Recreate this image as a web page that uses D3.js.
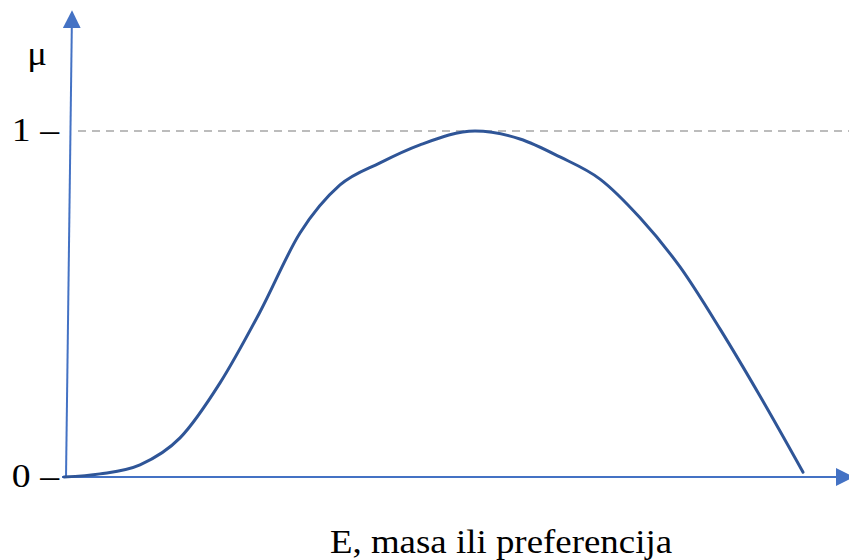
<!DOCTYPE html>
<html>
<head>
<meta charset="utf-8">
<script src="https://cdn.jsdelivr.net/npm/d3@7"></script>
<style>
  html, body { margin: 0; padding: 0; background: #ffffff; }
  svg { display: block; }
  .serif { font-family: "Liberation Serif", "Times New Roman", Times, "DejaVu Serif", serif; }
</style>
</head>
<body>
<svg id="chart" width="849" height="560"></svg>
<script>
// Membership curve μ(E) (E on a 0–100 scale)
const eValues  = [0, 4.65, 9.82, 14.99, 20.16, 25.32, 30.49, 35.66, 40.83, 45.99, 53.1, 58.91, 64.08, 69.25, 74.42, 79.59, 84.75, 89.92, 95.48];
const muValues = [0, 0.009, 0.035, 0.113, 0.272, 0.477, 0.705, 0.844, 0.908, 0.960, 1.0, 0.977, 0.925, 0.861, 0.749, 0.607, 0.428, 0.234, 0.014];
const yTickValues = [0, 1];
const yTickLabels = ["0 \u2013", "1 \u2013"];
const yAxisLabel = "\u03bc";
const xAxisLabel = "E, masa ili preferencija";

const svg = d3.select("#chart");
const x = d3.scaleLinear().domain([0, 100]).range([64, 838]);
const y = d3.scaleLinear().domain([0, 1]).range([477, 131]);

const axisColor = "#4472C4";
const curveColor = "#2F5597";
const stretch = 1.11; // the reference text is slightly wider than plain Times

const defs = svg.append("defs");
defs.append("marker")
  .attr("id", "arrow")
  .attr("viewBox", "0 0 10 10")
  .attr("refX", 9).attr("refY", 5)
  .attr("markerWidth", 18).attr("markerHeight", 18)
  .attr("markerUnits", "userSpaceOnUse")
  .attr("orient", "auto")
  .append("path")
  .attr("d", "M0,0 L10,5 L0,10 Z")
  .attr("fill", axisColor);

// dashed reference line at μ = 1
svg.append("line")
  .attr("x1", 78).attr("x2", 849)
  .attr("y1", y(1)).attr("y2", y(1))
  .attr("stroke", "#A6A6A6")
  .attr("stroke-width", 1.5)
  .attr("stroke-dasharray", "8,6");

// x axis
svg.append("line")
  .attr("x1", 62).attr("y1", y(0))
  .attr("x2", 852).attr("y2", y(0))
  .attr("stroke", axisColor)
  .attr("stroke-width", 2)
  .attr("marker-end", "url(#arrow)");

// y axis (slightly slanted, as in the reference)
svg.append("line")
  .attr("x1", 66).attr("y1", y(0) + 1)
  .attr("x2", 72).attr("y2", 12)
  .attr("stroke", axisColor)
  .attr("stroke-width", 2)
  .attr("marker-end", "url(#arrow)");

// membership curve
const data = eValues.map((e, i) => ({ e, mu: muValues[i] }));
const line = d3.line()
  .x(d => x(d.e))
  .y(d => y(d.mu))
  .curve(d3.curveMonotoneX);

svg.append("path")
  .datum(data)
  .attr("d", line)
  .attr("fill", "none")
  .attr("stroke", curveColor)
  .attr("stroke-width", 3)
  .attr("stroke-linecap", "round");

// y tick labels
svg.selectAll("text.ytick")
  .data(yTickValues)
  .enter().append("text")
  .attr("class", "ytick serif")
  .attr("transform", d => `translate(59,${y(d) + 9.5}) scale(${stretch},1)`)
  .attr("text-anchor", "end")
  .attr("font-size", 34)
  .attr("fill", "#000")
  .text((d, i) => yTickLabels[i]);

// μ label
svg.append("text")
  .attr("class", "serif")
  .attr("transform", `translate(37,65) scale(${stretch},1)`)
  .attr("text-anchor", "middle")
  .attr("font-size", 33)
  .attr("fill", "#000")
  .text(yAxisLabel);

// x axis label
svg.append("text")
  .attr("class", "serif")
  .attr("transform", `translate(501,553) scale(1.118,1)`)
  .attr("text-anchor", "middle")
  .attr("font-size", 33)
  .attr("fill", "#000")
  .text(xAxisLabel);
</script>
</body>
</html>
